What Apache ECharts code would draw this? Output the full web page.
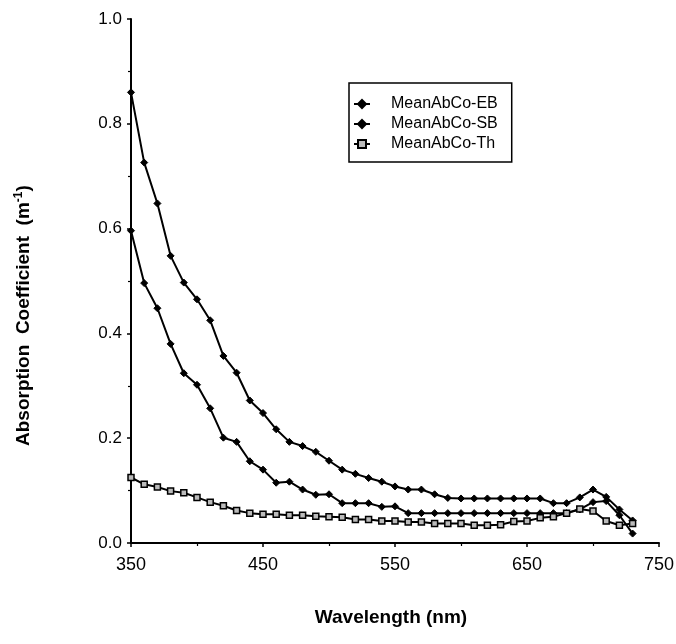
<!DOCTYPE html>
<html>
<head>
<meta charset="utf-8">
<script src="https://cdn.jsdelivr.net/npm/echarts@6/dist/echarts.min.js"></script>
<style>html,body{margin:0;padding:0;background:#fff;}#c{width:676px;height:644px;}</style>
</head>
<body>
<div id="c"></div>
<script>
var wavelengths = [350,360,370,380,390,400,410,420,430,440,450,460,470,480,490,500,510,520,530,540,550,560,570,580,590,600,610,620,630,640,650,660,670,680,690,700,710,720,730];
var seriesNames = ['MeanAbCo-EB','MeanAbCo-SB','MeanAbCo-Th'];
var meanAbCoEB = [0.860,0.726,0.648,0.548,0.497,0.465,0.425,0.357,0.325,0.272,0.248,0.217,0.193,0.185,0.174,0.157,0.140,0.132,0.124,0.117,0.108,0.102,0.102,0.093,0.086,0.085,0.085,0.085,0.085,0.085,0.085,0.085,0.076,0.076,0.087,0.102,0.088,0.064,0.043];
var meanAbCoSB = [0.596,0.496,0.448,0.380,0.324,0.302,0.257,0.201,0.193,0.156,0.140,0.115,0.117,0.102,0.092,0.093,0.076,0.076,0.076,0.069,0.070,0.057,0.057,0.057,0.057,0.057,0.057,0.057,0.057,0.057,0.057,0.057,0.057,0.057,0.064,0.078,0.080,0.053,0.018];
var meanAbCoTh = [0.125,0.112,0.107,0.099,0.096,0.087,0.078,0.071,0.062,0.057,0.055,0.055,0.053,0.053,0.051,0.050,0.049,0.045,0.045,0.042,0.042,0.040,0.040,0.037,0.037,0.037,0.034,0.034,0.035,0.041,0.042,0.048,0.050,0.057,0.065,0.061,0.042,0.034,0.037];
var xTicks = [350,450,550,650,750];
var yTicks = [0.0,0.2,0.4,0.6,0.8,1.0];
var xTitle = 'Wavelength (nm)';
var yTitle = 'Absorption  Coefficient  (m';

function pairs(ys){ return wavelengths.map(function(w,i){ return [w, ys[i]]; }); }

var chart = echarts.init(document.getElementById('c'), null, {renderer:'canvas'});
var FONT = 'Liberation Sans, Arial, sans-serif';
var axisCommon = {
  axisLine:{show:true, onZero:false, lineStyle:{color:'#000', width:2}},
  axisTick:{show:true, inside:false, length:4, lineStyle:{color:'#000', width:1.5}},
  minorTick:{show:true, splitNumber:2, length:3, lineStyle:{color:'#000', width:1.2}},
  splitLine:{show:false},
  minorSplitLine:{show:false}
};
var option = {
  backgroundColor:'#fff',
  animation:false,
  grid:{left:131, right:17, top:19, bottom:101, containLabel:false, outerBoundsMode:'none'},
  xAxis: Object.assign({
    type:'value', min:xTicks[0], max:xTicks[xTicks.length-1], interval:100,
    axisLabel:{color:'#000', fontFamily:FONT, fontSize:18, margin:13,
      formatter:function(v){ return String(v); }}
  }, axisCommon),
  yAxis: Object.assign({
    type:'value', min:yTicks[0], max:yTicks[yTicks.length-1], interval:0.2,
    axisLabel:{color:'#000', fontFamily:FONT, fontSize:17, margin:9,
      formatter:function(v){ return v.toFixed(1); }}
  }, axisCommon),
  legend:{
    show:true, orient:'vertical', left:349, top:83,
    data:seriesNames,
    backgroundColor:'#fff', borderColor:'#000', borderWidth:1.5, borderRadius:0,
    padding:[13,14,10,4], itemGap:4, itemWidth:16, itemHeight:10,
    textStyle:{color:'#000', fontFamily:FONT, fontSize:16, padding:[0,0,0,16]}
  },
  graphic:[
    {type:'text', z:10, x:391, y:618,
      style:{text:xTitle, font:'bold 19px Liberation Sans, Arial, sans-serif', fill:'#000',
        textAlign:'center', textVerticalAlign:'middle'}},
    {type:'text', z:10, x:24, y:446, rotation:Math.PI/2,
      style:{text:yTitle + '{s|-1}' + ')', fill:'#000', font:'bold 19px Liberation Sans, Arial, sans-serif',
        textVerticalAlign:'middle',
        rich:{s:{fontSize:12, fontWeight:'bold', fontFamily:FONT, verticalAlign:'top', padding:[0,0,10,0]}}}}
  ],
  series:[
    {name:seriesNames[0], type:'line', data:pairs(meanAbCoEB), symbol:'diamond', symbolSize:7,
      lineStyle:{color:'#000', width:2}, itemStyle:{color:'#000', borderColor:'#000', borderWidth:1}},
    {name:seriesNames[1], type:'line', data:pairs(meanAbCoSB), symbol:'diamond', symbolSize:7,
      lineStyle:{color:'#000', width:2}, itemStyle:{color:'#000', borderColor:'#000', borderWidth:1}},
    {name:seriesNames[2], type:'line', data:pairs(meanAbCoTh), symbol:'rect', symbolSize:6,
      lineStyle:{color:'#000', width:2}, itemStyle:{color:'#bbb', borderColor:'#000', borderWidth:1.5}}
  ]
};
chart.setOption(option);
</script>
</body>
</html>
